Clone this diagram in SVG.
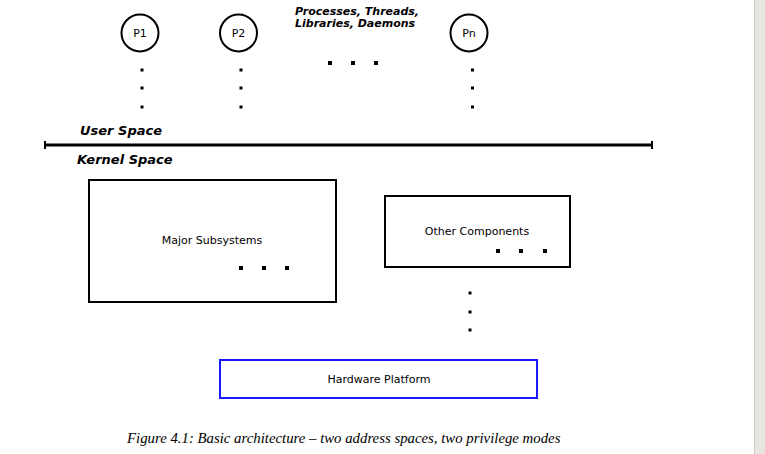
<svg xmlns="http://www.w3.org/2000/svg" width="765" height="454" viewBox="0 0 765 454">
<style>
.proc{fill:#fff;stroke:#000;stroke-width:2}
.box{fill:#fff;stroke:#000;stroke-width:2}
.lbl{font-family:"DejaVu Sans",sans-serif;font-size:11px;fill:#000;text-anchor:middle}
.bi{font-family:"DejaVu Sans",sans-serif;font-size:11px;font-weight:bold;font-style:italic;fill:#000}
.bi2{font-family:"DejaVu Sans",sans-serif;font-size:13px;font-weight:bold;font-style:italic;fill:#000}
.cap{font-family:"Liberation Serif",serif;font-size:14.8px;font-style:italic;fill:#000}
.d{fill:#000}
</style>
<rect width="765" height="454" fill="#fff"/>
<rect x="754" y="0" width="11" height="454" fill="#e7e5df"/>
<rect x="754" y="0" width="1" height="454" fill="#cfcdc7"/>

<g id="p1"><circle class="proc" cx="140" cy="33" r="18.5"/><text class="lbl" x="140" y="37">P1</text></g>
<g id="p2"><circle class="proc" cx="238.5" cy="33" r="18.5"/><text class="lbl" x="238.5" y="37">P2</text></g>
<g id="pn"><circle class="proc" cx="469" cy="33" r="18.5"/><text class="lbl" x="469" y="37">Pn</text></g>
<g id="proc-label">
<text class="bi" x="295" y="15">Processes, Threads,</text>
<text class="bi" x="295" y="27">Libraries, Daemons</text>
</g>
<g id="connectors">
<line x1="45" y1="145" x2="652" y2="145" stroke="#000" stroke-width="3"/>
<line x1="45" y1="141" x2="45" y2="149" stroke="#000" stroke-width="2"/>
<line x1="652" y1="141" x2="652" y2="149" stroke="#000" stroke-width="2"/>
</g>
<g id="space-labels">
<text class="bi2" x="80" y="135">User Space</text>
<text class="bi2" x="77" y="164">Kernel Space</text>
</g>
<g id="major"><rect class="box" x="89" y="180" width="247" height="122"/><text class="lbl" x="212" y="244">Major Subsystems</text></g>
<g id="other"><rect class="box" x="385" y="196" width="185" height="71"/><text class="lbl" x="477" y="235">Other Components</text></g>
<g id="hw"><rect x="220" y="360" width="317" height="38" fill="#fff" stroke="#1a1aff" stroke-width="2"/><text class="lbl" x="379" y="383">Hardware Platform</text></g>
<g id="dots">
<rect class="d" x="140.5" y="68.5" width="3" height="3"/>
<rect class="d" x="140.5" y="86.5" width="3" height="3"/>
<rect class="d" x="140.5" y="105.5" width="3" height="3"/>
<rect class="d" x="239.5" y="68.5" width="3" height="3"/>
<rect class="d" x="239.5" y="86.5" width="3" height="3"/>
<rect class="d" x="239.5" y="105.5" width="3" height="3"/>
<rect class="d" x="471" y="68.5" width="3" height="3"/>
<rect class="d" x="471" y="86.5" width="3" height="3"/>
<rect class="d" x="471" y="105.5" width="3" height="3"/>
<rect class="d" x="328" y="61" width="4" height="4"/>
<rect class="d" x="351" y="61" width="4" height="4"/>
<rect class="d" x="374" y="61" width="4" height="4"/>
<rect class="d" x="239" y="266" width="4" height="4"/>
<rect class="d" x="262" y="266" width="4" height="4"/>
<rect class="d" x="285" y="266" width="4" height="4"/>
<rect class="d" x="496" y="249" width="4" height="4"/>
<rect class="d" x="519" y="249" width="4" height="4"/>
<rect class="d" x="543" y="249" width="4" height="4"/>
<rect class="d" x="468.5" y="291.5" width="3" height="3"/>
<rect class="d" x="468.5" y="310.5" width="3" height="3"/>
<rect class="d" x="468.5" y="328.5" width="3" height="3"/>
</g>
<text class="cap" x="127" y="443">Figure 4.1: Basic architecture – two address spaces, two privilege modes</text>
</svg>
